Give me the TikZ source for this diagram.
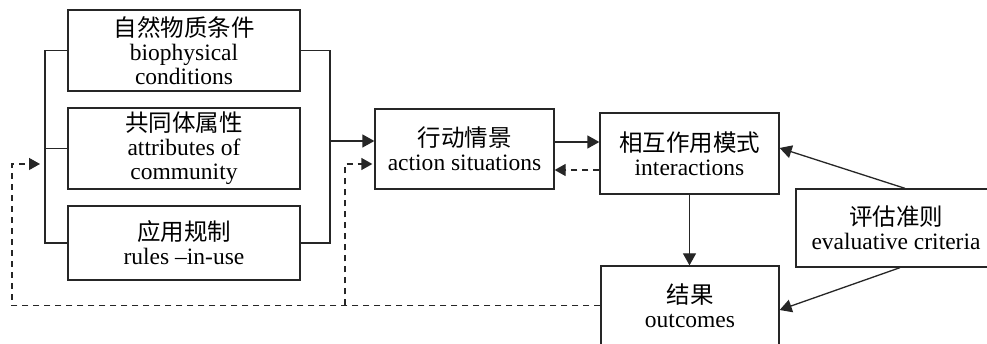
\documentclass[tikz,border=0pt]{standalone}
\usepackage{fontspec}
\setmainfont{Liberation Serif}
\newfontfamily\cjk{Noto Sans CJK SC}
\usetikzlibrary{arrows.meta,calc}
\begin{document}
\begin{tikzpicture}[x=1pt,y=-1pt,
  box/.style={draw=black!85,line width=1.3pt,inner sep=0pt,align=center,font=\fontsize{23.5}{24}\selectfont,fill=white},
  conn/.style={draw=black!85,line width=1.3pt},
  arr/.style={conn,-{Triangle[length=12pt,width=13pt]}},
  dsh/.style={conn,dash pattern=on 6pt off 5pt},
  darr/.style={dsh,-{Triangle[length=11pt,width=12pt]}}]
\useasboundingbox (0,0) rectangle (987,344);
\clip (0,0) rectangle (987,344);
\fill[white] (0,0) rectangle (987,344);
\node[box,minimum width=232pt,minimum height=81pt] (bio) at (184,50.5) {{\cjk 自然物质条件}\\biophysical\\conditions};
\node[box,minimum width=232pt,minimum height=81pt] (com) at (184,148.5) {{\cjk 共同体属性}\\attributes of\\community};
\node[box,minimum width=232pt,minimum height=74pt] (rul) at (184,243) {{\cjk 应用规制}\\rules –in-use};
\node[box,minimum width=179pt,minimum height=80pt] (act) at (464.5,149) {{\cjk 行动情景}\\action situations};
\node[box,minimum width=179pt,minimum height=81pt] (int) at (689.5,153.5) {{\cjk 相互作用模式}\\interactions};
\node[box,minimum width=178pt,minimum height=79pt] (out) at (690,305.5) {{\cjk 结果}\\outcomes};
\node[box,minimum width=200pt,minimum height=78pt] (eva) at (896,228) {{\cjk 评估准则}\\evaluative criteria};
% left bracket
\coordinate (lb) at (45,0);
\draw[conn] (bio.west) -- (bio.west -| lb) |- (rul.west);
\draw[conn] (com.west) -- (com.west -| lb);
% right bracket
\coordinate (rb) at (330,141);
\draw[conn] (bio.east) -- (bio.east -| rb) |- (rul.east);
\draw[arr] (rb) -- (rb -| act.west);
% dashed feedback
\coordinate (dl) at (12,164);
\coordinate (dlt) at (40,164);
\coordinate (dm) at (345,164);
\draw[darr] (out.west) -| (dl) -- (dlt);
\draw[darr,shorten >=2pt] (out.west -| dm) |- (act.west |- dm);
% action <-> interactions
\coordinate (p0) at ([yshift=7pt]act.east);
\coordinate (p1) at ([yshift=-21pt]act.east);
\draw[arr] (p0) -- (p0 -| int.west);
\draw[darr] (p1 -| int.west) -- (p1);
% interactions -> outcomes
\draw[arr] (int.south) -- (int.south |- out.north);
% evaluative criteria
\draw[arr] ([xshift=9pt]eva.north) -- ([yshift=5.5pt]int.east);
\draw[arr] ([xshift=4pt]eva.south) -- ([yshift=-4.5pt]out.east);
\end{tikzpicture}
\end{document}
